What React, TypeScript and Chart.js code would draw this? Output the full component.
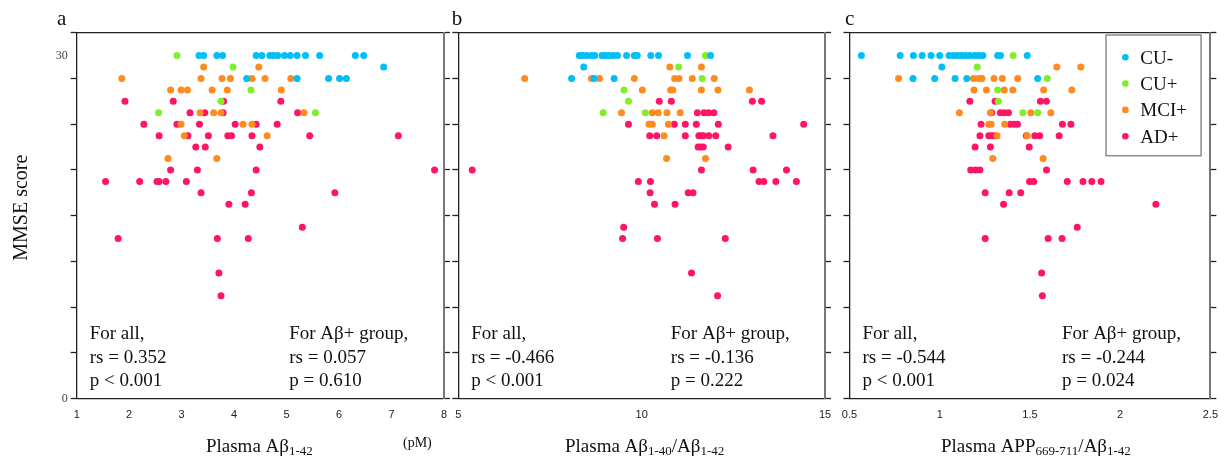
import React, { useEffect, useRef } from "react";
import { Chart, registerables } from "chart.js";

Chart.register(...registerables);

type Row = [number, number[]]; // [MMSE score, x values at that score]

// ---------- Panel a: Plasma Aβ1-42 (pM) ----------
const aCUminus: Row[] = [
  [30, [3.33, 3.42, 3.67, 3.78, 4.42, 4.53, 4.68, 4.75, 4.83, 4.96, 5.07, 5.2, 5.36, 5.63, 6.31, 6.47]],
  [29, [6.85]],
  [28, [4.24, 5.2, 5.8, 6.01, 6.14]],
];
const aCUplus: Row[] = [
  [30, [2.91]], [29, [3.98]], [27, [4.32]], [26, [3.75]], [25, [2.56, 5.55]],
];
const aMCIplus: Row[] = [
  [29, [3.42, 4.47]],
  [28, [1.86, 3.37, 3.77, 3.93, 4.34, 4.59, 5.08]],
  [27, [2.79, 2.99, 3.11, 3.58, 3.87, 4.9]],
  [25, [3.35, 3.61, 3.75, 5.33]],
  [24, [2.99, 4.17, 4.34]],
  [23, [3.05, 4.63]],
  [21, [2.74, 3.67]],
];
const aADplus: Row[] = [
  [26, [1.92, 2.84, 3.8, 4.89]],
  [25, [3.16, 3.44, 3.79, 5.21]],
  [24, [2.28, 2.91, 3.34, 4.02, 4.42, 4.82]],
  [23, [2.57, 3.12, 3.51, 3.88, 3.95, 4.34, 5.44, 7.13]],
  [22, [3.27, 3.45, 4.49]],
  [20, [2.79, 3.3, 4.42, 7.82]],
  [19, [1.55, 2.2, 2.53, 2.57, 2.7, 3.09]],
  [18, [3.37, 4.33, 5.92]],
  [17, [3.9, 4.21]],
  [15, [5.3]],
  [14, [1.79, 3.68, 4.27]],
  [11, [3.71]],
  [9, [3.75]],
];

// ---------- Panel b: Plasma Aβ1-40/Aβ1-42 ----------
const bCUminus: Row[] = [
  [30, [8.3, 8.39, 8.5, 8.63, 8.72, 8.92, 9.01, 9.11, 9.22, 9.34, 9.59, 9.8, 9.88, 10.25, 10.46, 11.25, 11.88]],
  [29, [8.42]],
  [28, [8.09, 8.7, 9.25]],
];
const bCUplus: Row[] = [
  [30, [11.74]], [29, [11.01]], [28, [11.65]], [27, [9.52]], [26, [9.64]], [25, [8.95, 10.1]],
];
const bMCIplus: Row[] = [
  [29, [10.77, 11.63]],
  [28, [6.81, 8.63, 8.85, 9.8, 10.9, 11.02, 11.38, 11.98]],
  [27, [10.02, 10.79, 10.85, 11.63, 12.08, 12.94]],
  [25, [9.45, 10.29, 10.45, 10.69, 11.05]],
  [24, [10.2, 10.29, 10.73]],
  [23, [10.61]],
  [21, [10.68, 11.74]],
];
const bADplus: Row[] = [
  [26, [10.48, 10.81, 13.02, 13.27]],
  [25, [11.52, 11.7, 11.82, 11.97]],
  [24, [9.64, 10.89, 11.19, 11.49, 12.09, 14.42]],
  [23, [10.22, 10.41, 11.19, 11.56, 11.63, 11.68, 11.83, 12.02, 13.58]],
  [22, [11.54, 11.61, 11.68, 12.36]],
  [20, [5.38, 11.63, 13.04, 13.95]],
  [19, [9.91, 10.24, 13.2, 13.33, 13.66, 14.22]],
  [18, [10.23, 11.27, 11.4]],
  [17, [10.35, 10.91]],
  [15, [9.51]],
  [14, [9.48, 10.43, 12.28]],
  [11, [11.36]],
  [9, [12.07]],
];

// ---------- Panel c: Plasma APP669-711/Aβ1-42 ----------
const cCUminus: Row[] = [
  [30, [0.566, 0.781, 0.854, 0.903, 0.952, 1.0, 1.052, 1.076, 1.099, 1.121, 1.143, 1.167, 1.194, 1.216, 1.239, 1.321, 1.337, 1.485]],
  [29, [1.012]],
  [28, [0.852, 0.972, 1.085, 1.15, 1.543]],
];
const cCUplus: Row[] = [
  [30, [1.407]], [29, [1.208]], [28, [1.596]], [27, [1.321]], [26, [1.325]], [25, [1.461, 1.543]],
];
const cMCIplus: Row[] = [
  [29, [1.649, 1.782]],
  [28, [0.772, 1.187, 1.216, 1.234, 1.301, 1.347, 1.432]],
  [27, [1.19, 1.259, 1.358, 1.405, 1.576, 1.732]],
  [25, [1.109, 1.281, 1.505, 1.616]],
  [24, [1.272, 1.285, 1.36]],
  [23, [1.318, 1.485]],
  [21, [1.294, 1.573]],
];
const cADplus: Row[] = [
  [26, [1.167, 1.307, 1.558, 1.591]],
  [25, [1.288, 1.336, 1.358, 1.381]],
  [24, [1.229, 1.391, 1.412, 1.431, 1.68, 1.727]],
  [23, [1.223, 1.272, 1.288, 1.303, 1.48, 1.527, 1.554, 1.662]],
  [22, [1.196, 1.281, 1.496]],
  [20, [1.172, 1.198, 1.223, 1.592]],
  [19, [1.498, 1.521, 1.707, 1.794, 1.843, 1.894]],
  [18, [1.252, 1.385, 1.449]],
  [17, [1.354, 2.198]],
  [15, [1.762]],
  [14, [1.252, 1.601, 1.678]],
  [11, [1.565]],
  [9, [1.569]],
];

const groupLabels = ["CU-", "CU+", "MCI+", "AD+"];
const groupColors = ["#00BFF5", "#80EE2A", "#FF8B1F", "#FF1468"];

const yTickValues = [0, 4, 8, 12, 16, 20, 24, 28, 30, 32];
const yLabelValues = [0, 30];
const yLabelOnlyValues = [30];

// ---------- layout constants ----------
const W = 1228;
const H = 457;
const AREA_TOP = 32.7;
const AREA_BOTTOM = 398.7;
const Y_W = 40;
const Y2_W = 10;
const X_H = 40;
const SERIF = '"Liberation Serif", "Times New Roman", serif';
const SANS = '"Liberation Sans", Arial, sans-serif';

type Panel = {
  id: string;
  letter: string;
  letterX: number;
  groups: Row[][];
  xMin: number;
  xMax: number;
  xStep: number;
  areaLeft: number;
  areaRight: number;
  title: [string, boolean][];
  titleShift: number;
  unit?: string;
  statsAll: string[];
  statsAb: string[];
  yTitle?: string;
  yLabels: boolean;
  legend?: boolean;
};

const panels: Panel[] = [
  {
    id: "a", letter: "a", letterX: 57, groups: [aCUminus, aCUplus, aMCIplus, aADplus],
    xMin: 1, xMax: 8, xStep: 1, areaLeft: 76.7, areaRight: 444,
    title: [["Plasma Aβ", false], ["1-42", true]], titleShift: -1, unit: "(pM)",
    statsAll: ["For all,", "rs = 0.352", "p < 0.001"],
    statsAb: ["For Aβ+ group,", "rs = 0.057", "p = 0.610"],
    yTitle: "MMSE score", yLabels: true,
  },
  {
    id: "b", letter: "b", letterX: 451.7, groups: [bCUminus, bCUplus, bMCIplus, bADplus],
    xMin: 5, xMax: 15, xStep: 5, areaLeft: 458.3, areaRight: 825,
    title: [["Plasma Aβ", false], ["1-40", true], ["/Aβ", false], ["1-42", true]], titleShift: 3,
    statsAll: ["For all,", "rs = -0.466", "p < 0.001"],
    statsAb: ["For Aβ+ group,", "rs = -0.136", "p = 0.222"],
    yLabels: false,
  },
  {
    id: "c", letter: "c", letterX: 845, groups: [cCUminus, cCUplus, cMCIplus, cADplus],
    xMin: 0.5, xMax: 2.5, xStep: 0.5, areaLeft: 849.5, areaRight: 1216,
    title: [["Plasma APP", false], ["669-711", true], ["/Aβ", false], ["1-42", true]], titleShift: 6,
    statsAll: ["For all,", "rs = -0.544", "p < 0.001"],
    statsAb: ["For Aβ+ group,", "rs = -0.244", "p = 0.024"],
    yLabels: false,
    legend: true,
  },
];

function toPoints(rows: Row[]) {
  return rows.flatMap(([y, xs]) => xs.map((x) => ({ x, y })));
}

function makeOverlay(p: Panel) {
  return {
    id: "overlay-" + p.id,
    afterDraw(chart: any) {
      const { ctx, chartArea: ca } = chart;
      ctx.save();
      ctx.fillStyle = "#111";
      ctx.textAlign = "left";
      ctx.textBaseline = "alphabetic";
      // panel letter
      ctx.font = `21px ${SERIF}`;
      ctx.fillText(p.letter, p.letterX, 25);
      // statistics
      ctx.font = `19px ${SERIF}`;
      p.statsAll.forEach((t, i) => ctx.fillText(t, ca.left + 13, ca.bottom - 59.4 + i * 23.3));
      p.statsAb.forEach((t, i) => ctx.fillText(t, ca.left + 212.5, ca.bottom - 59.4 + i * 23.3));
      // x title with subscripts
      const fontFor = (sub: boolean) => (sub ? `13px ${SERIF}` : `19px ${SERIF}`);
      const widths = p.title.map(([t, sub]) => {
        ctx.font = fontFor(sub);
        return ctx.measureText(t).width;
      });
      const total = widths.reduce((s, w) => s + w, 0);
      let x = (ca.left + ca.right) / 2 + p.titleShift - total / 2;
      p.title.forEach(([t, sub], i) => {
        ctx.font = fontFor(sub);
        ctx.fillText(t, x, sub ? 455 : 451.5);
        x += widths[i];
      });
      if (p.unit) {
        ctx.font = `14px ${SERIF}`;
        ctx.fillText(p.unit, ca.right - 41, 447);
      }
      if (p.yTitle) {
        ctx.save();
        ctx.translate(27, (ca.top + ca.bottom) / 2 - 8);
        ctx.rotate(-Math.PI / 2);
        ctx.textAlign = "center";
        ctx.font = `20px ${SERIF}`;
        ctx.fillText(p.yTitle, 0, 0);
        ctx.restore();
      }
      if (p.legend) {
        const bx = ca.right - 104.3;
        const by = ca.top + 2.3;
        const bw = 95;
        const bh = 120.7;
        ctx.fillStyle = "#fff";
        ctx.fillRect(bx, by, bw, bh);
        ctx.strokeStyle = "#8c8c8c";
        ctx.lineWidth = 1.5;
        ctx.strokeRect(bx, by, bw, bh);
        chart.data.datasets.forEach((ds: any, i: number) => {
          const cy = by + 22.3 + i * 26.3;
          ctx.fillStyle = ds.backgroundColor;
          ctx.beginPath();
          ctx.arc(bx + 19.3, cy, 3.3, 0, Math.PI * 2);
          ctx.fill();
          ctx.fillStyle = "#111";
          ctx.font = `19px ${SERIF}`;
          ctx.fillText(ds.label, bx + 34.3, cy + 6.5);
        });
      }
      ctx.restore();
    },
  };
}

function setYTicks(scale: any) {
  scale.ticks = yTickValues.map((v) => ({ value: v }));
}

function buildConfig(p: Panel): any {
  const tickColor = (c: any) =>
    c.tick && yLabelOnlyValues.includes(c.tick.value) ? "rgba(0,0,0,0)" : "#222";
  return {
    type: "scatter",
    data: {
      datasets: p.groups.map((rows, i) => ({
        label: groupLabels[i],
        data: toPoints(rows),
        backgroundColor: groupColors[i],
        borderWidth: 0,
        pointRadius: 3.5,
        pointHoverRadius: 3.5,
        xAxisID: "x",
        yAxisID: "y",
      })),
    },
    options: {
      animation: false,
      responsive: false,
      events: [],
      layout: {
        padding: {
          left: p.areaLeft - Y_W,
          right: W - p.areaRight - Y2_W,
          top: AREA_TOP,
          bottom: H - AREA_BOTTOM - X_H,
        },
      },
      plugins: { legend: { display: false }, tooltip: { enabled: false } },
      scales: {
        x: {
          type: "linear",
          position: "bottom",
          min: p.xMin,
          max: p.xMax,
          afterFit: (s: any) => { s.height = X_H; },
          ticks: {
            stepSize: p.xStep,
            padding: 10,
            color: "#222",
            font: { family: SANS, size: 11 },
            autoSkip: false,
            maxRotation: 0,
            callback: (v: number) => String(v),
          },
          grid: { drawOnChartArea: false, drawTicks: false },
          border: { color: "#222", width: 1.3 },
        },
        xTop: {
          type: "linear",
          position: "top",
          min: p.xMin,
          max: p.xMax,
          afterFit: (s: any) => { s.height = 0; },
          ticks: { display: false },
          grid: { drawOnChartArea: false, drawTicks: false },
          border: { color: "#222", width: 1.3 },
        },
        y: {
          type: "linear",
          position: "left",
          min: 0,
          max: 32,
          afterBuildTicks: setYTicks,
          afterFit: (s: any) => { s.width = Y_W; },
          ticks: {
            autoSkip: false,
            padding: 3,
            color: "#444",
            font: { family: SERIF, size: 12 },
            callback: (v: number) => (p.yLabels && yLabelValues.includes(v) ? String(v) : ""),
          },
          grid: { drawOnChartArea: false, tickLength: 6, tickWidth: 1.3, tickColor },
          border: { color: "#222", width: 1.3 },
        },
        y2: {
          type: "linear",
          position: "right",
          min: 0,
          max: 32,
          afterBuildTicks: setYTicks,
          afterFit: (s: any) => { s.width = Y2_W; },
          ticks: { display: false },
          grid: { drawOnChartArea: false, tickLength: 6, tickWidth: 1.3, tickColor },
          border: { color: "#777", width: 2 },
        },
      },
    },
    plugins: [makeOverlay(p)],
  };
}

export default function App() {
  const refs = useRef<(HTMLCanvasElement | null)[]>([]);
  useEffect(() => {
    const charts = panels.map((p, i) => new Chart(refs.current[i] as HTMLCanvasElement, buildConfig(p)));
    return () => charts.forEach((c) => c.destroy());
  }, []);
  return (
    <div style={{ position: "absolute", left: 0, top: 0, width: W, height: H, background: "#fff" }}>
      {panels.map((p, i) => (
        <canvas
          key={p.id}
          ref={(el) => { refs.current[i] = el; }}
          width={W}
          height={H}
          style={{ position: "absolute", left: 0, top: 0 }}
        />
      ))}
    </div>
  );
}
